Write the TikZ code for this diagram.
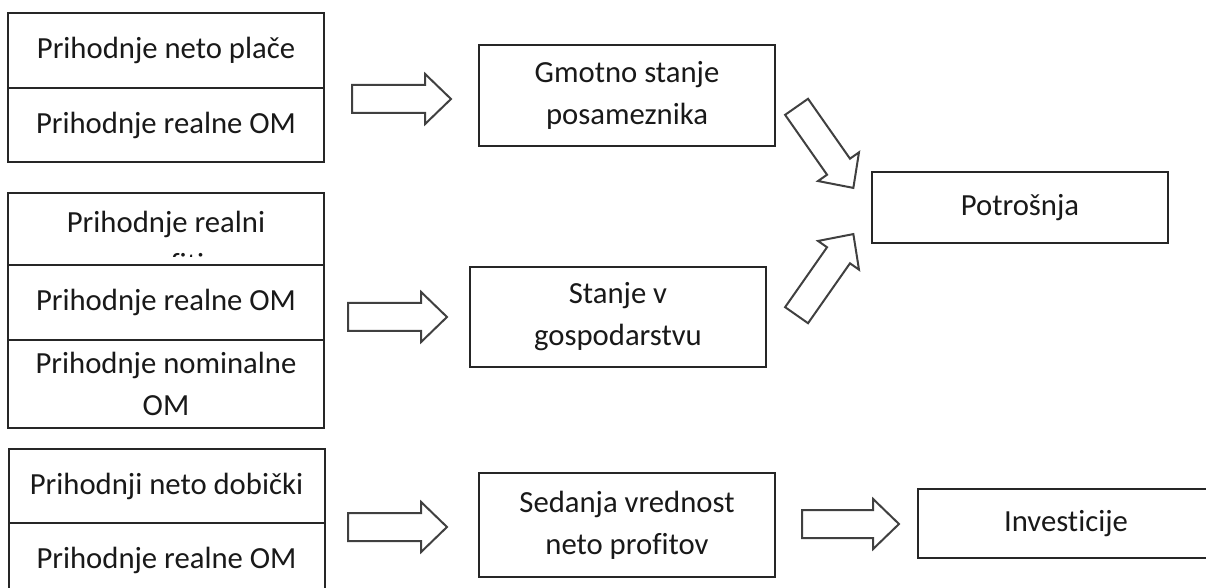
\documentclass[tikz,border=0pt]{standalone}
\usepackage{fontspec}
\setmainfont{Carlito}[Ligatures=NoCommon]
\usetikzlibrary{positioning,shapes.arrows}
\tikzset{
  cellbox/.style={draw=black!85,line width=1pt,fill=white,outer sep=0pt,
    minimum width=158pt,align=center},
  statebox/.style={draw=black!85,line width=1pt,fill=white,outer sep=0pt,
    minimum width=148pt,align=center},
  fatarrow/.style={single arrow,draw=black!75,line width=1pt,fill=white,
    inner sep=6.5pt,minimum height=49.5pt,single arrow head extend=5.5pt,
    single arrow tip angle=88,anchor=tail},
}
\begin{document}
\begin{tikzpicture}[x=0.5pt,y=-0.5pt,
  every node/.style={font=\fontsize{15.35}{21}\selectfont,text=black!90}]
\clip (0,0) rectangle (1206,588);

% left column
\node[cellbox,minimum height=37.5pt] (placa) at (166,50.5) {Prihodnje neto plače};
\node[cellbox,minimum height=37pt,below=0pt of placa] (realneA) {Prihodnje realne OM};

\node[cellbox,minimum height=36pt] (profiti) at (166,229) {};
\begin{scope}
  \clip (profiti.north west) rectangle ([yshift=4pt]profiti.south east);
  \node[anchor=base,align=center] (profititext) at ([yshift=-41pt]profiti.north) {Prihodnje realni\\profiti};
\end{scope}
\node[cellbox,minimum height=37.5pt,below=0pt of profiti] (realneB) {Prihodnje realne OM};
\node[cellbox,minimum height=44pt,below=0pt of realneB] (nominalne) {Prihodnje nominalne\\OM};

\node[cellbox,minimum height=37pt] (dobicki) at (166.5,486) {Prihodnji neto dobički};
\node[cellbox,minimum height=37pt,below=0pt of dobicki] (realneC) {Prihodnje realne OM};

% middle and right
\node[statebox,minimum height=50.5pt] (gmotno) at (627,95.5) {Gmotno stanje\\posameznika};
\node[statebox,minimum height=50pt] (stanje) at (618,317) {Stanje v\\gospodarstvu};
\node[statebox,minimum height=52pt] (sedanja) at (627,525) {Sedanja vrednost\\neto profitov};
\node[statebox,minimum height=35.5pt] (potrosnja) at (1020,207.5) {Potrošnja};
\node[statebox,minimum height=34.5pt] (investicije) at (1066,523.5) {Investicije};

% block arrows
\node[fatarrow] (arrA) at (351,99) {};
\node[fatarrow] (arrB) at (347,317) {};
\node[fatarrow] (arrC) at (347,527) {};
\node[fatarrow,rotate=-55] (arrD) at (796,106) {};
\node[fatarrow,rotate=55] (arrE) at (796,316) {};
\node[fatarrow,minimum height=48.5pt] (arrF) at (801,524) {};
\end{tikzpicture}
\end{document}
